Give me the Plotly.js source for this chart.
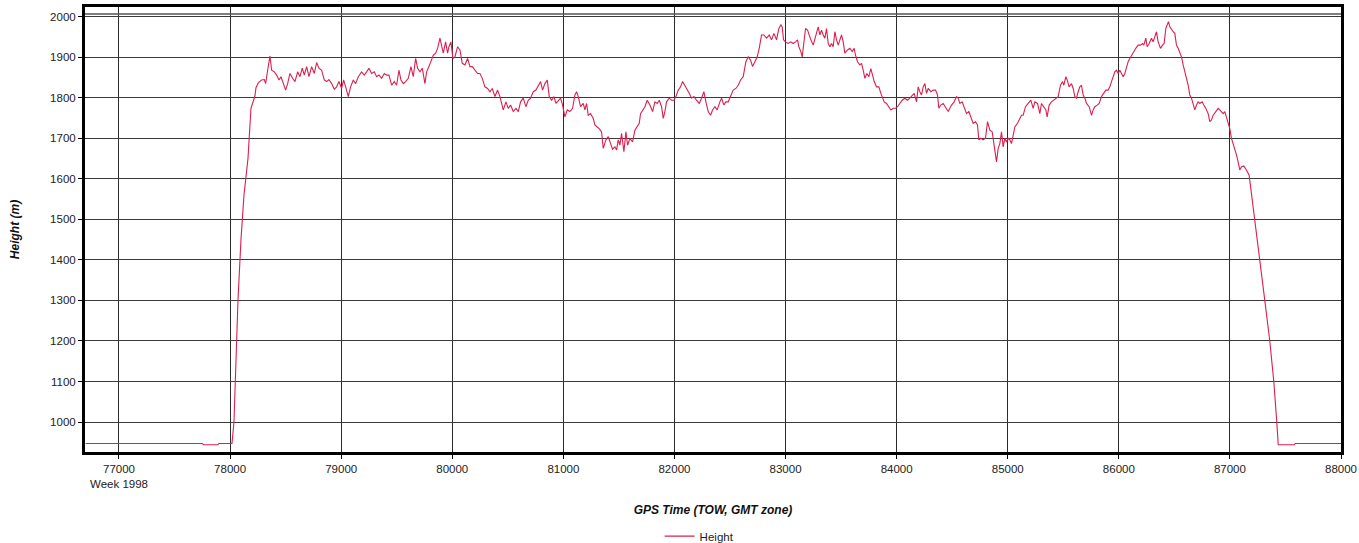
<!DOCTYPE html>
<html>
<head>
<meta charset="utf-8">
<script src="https://cdn.plot.ly/plotly-3.0.1.min.js"></script>
<style>
  html, body { margin: 0; padding: 0; background: #ffffff; }
  #chart { width: 1359px; height: 543px; }
</style>
</head>
<body>
<div id="chart"></div>
<script>
// GPS time of week (s)
const gpsTime = [
  76700, 77750, 77760, 77890, 77900, 78017, 78035, 78053, 78071, 78098, 78125, 78161, 78188, 78224, 78233,
  78254, 78284, 78308, 78320, 78338, 78359, 78374, 78398, 78419, 78440, 78458, 78479, 78500, 78518, 78539,
  78563, 78584, 78608, 78629, 78650, 78668, 78689, 78710, 78734, 78758, 78779, 78800, 78824, 78848, 78869,
  78890, 78914, 78938, 78959, 78980, 79004, 79022, 79040, 79064, 79085, 79109, 79130, 79154, 79184, 79208,
  79229, 79250, 79274, 79298, 79319, 79340, 79364, 79388, 79409, 79430, 79454, 79478, 79499, 79520, 79538,
  79559, 79580, 79604, 79628, 79649, 79670, 79688, 79709, 79730, 79754, 79769, 79790, 79814, 79829, 79850,
  79868, 79889, 79904, 79919, 79940, 79958, 79970, 79988, 80006, 80024, 80048, 80069, 80090, 80114, 80138,
  80159, 80180, 80204, 80228, 80249, 80270, 80294, 80318, 80339, 80360, 80384, 80408, 80429,
  80459, 80483, 80504, 80525, 80549, 80573, 80594, 80615, 80639, 80663, 80684, 80705, 80729, 80753, 80774,
  80795, 80813, 80834, 80855, 80873, 80894, 80915, 80933, 80954, 80975, 80993, 81014, 81035, 81059, 81083,
  81104, 81119, 81134, 81155, 81179, 81194, 81209, 81224, 81245, 81269, 81284, 81305, 81323, 81344, 81359,
  81383, 81404, 81425, 81443, 81464, 81479, 81494, 81509, 81524, 81545, 81563, 81578, 81599, 81623, 81644,
  81665, 81683, 81695, 81713, 81734, 81755, 81779, 81803, 81824, 81845, 81863, 81884, 81899, 81914, 81929,
  81953, 81974, 81995, 82013, 82034, 82055, 82073, 82094, 82115, 82133, 82154, 82175, 82199, 82223, 82244,
  82265, 82283, 82304, 82325, 82343, 82364, 82385, 82409, 82424, 82445, 82463, 82484, 82505, 82529, 82553,
  82574, 82595, 82619, 82643, 82664, 82685, 82703, 82724, 82745, 82763, 82784, 82805, 82829, 82853, 82874,
  82895, 82919,
  82940, 82958, 82970, 82982, 83000, 83024, 83048, 83069, 83090, 83108, 83120, 83138, 83150, 83168, 83180,
  83198, 83210, 83228, 83249, 83264, 83282, 83294, 83309, 83324, 83339, 83354, 83369, 83384, 83399, 83414,
  83429, 83444, 83459, 83474, 83489, 83504, 83519, 83534, 83558, 83579, 83600, 83618, 83630, 83648, 83669,
  83684, 83699, 83714, 83732, 83750, 83768, 83783, 83798, 83819, 83840, 83858, 83870, 83888, 83909, 83930,
  83948, 83969, 83990, 84008, 84029, 84050, 84074, 84098, 84119, 84140, 84158, 84179, 84194, 84209, 84224,
  84239, 84254, 84269, 84284, 84308, 84329, 84350, 84368, 84380, 84398, 84419, 84440, 84464, 84479, 84494,
  84518, 84539, 84554, 84569, 84590, 84608, 84629, 84650, 84674, 84689, 84710, 84728, 84740, 84758, 84779,
  84800, 84818, 84839, 84860, 84878, 84890, 84899, 84914, 84929, 84944, 84959, 84974, 84989, 85004, 85019,
  85034, 85049, 85064, 85088, 85109, 85124, 85139, 85160, 85184, 85208, 85229, 85244,
  85268, 85289, 85304, 85325, 85343, 85355, 85373, 85394, 85415, 85433, 85454, 85475, 85493, 85505, 85523,
  85535, 85553, 85574, 85589, 85604, 85619, 85634, 85649, 85664, 85679, 85694, 85709, 85733, 85754, 85769,
  85784, 85805, 85823, 85844, 85865, 85883, 85904, 85919, 85934, 85949, 85964, 85979, 85994, 86009, 86024,
  86039, 86054, 86069, 86084, 86099, 86114, 86135, 86153, 86174, 86195, 86213, 86225, 86243, 86255, 86273,
  86294, 86309, 86324, 86339, 86354, 86375, 86393, 86408, 86423, 86435, 86447, 86459, 86474, 86489, 86504,
  86519, 86534, 86549, 86564, 86579, 86594, 86609, 86624, 86639, 86654, 86669, 86684, 86699, 86714, 86729,
  86750, 86765, 86783, 86804, 86819, 86834, 86849, 86873, 86894, 86909, 86924, 86939, 86954, 86969, 86984,
  86999, 87014, 87029, 87044, 87059, 87074, 87089, 87104, 87125, 87149, 87173,
  87200, 87224, 87269, 87314, 87359, 87395, 87422, 87435, 87580, 87590, 88000
];

// Height (m)
const heightM = [
  947, 947, 944, 944, 947, 947, 1000, 1150, 1300, 1450, 1560, 1650, 1774, 1805, 1825,
  1837, 1844, 1845, 1835, 1868, 1903, 1868, 1864, 1856, 1844, 1852, 1835, 1819, 1835, 1860,
  1848, 1840, 1864, 1852, 1873, 1856, 1877, 1852, 1877, 1860, 1887, 1873, 1868, 1844, 1840,
  1845, 1835, 1821, 1827, 1840, 1823, 1844, 1827, 1803, 1827, 1844, 1835, 1852, 1864, 1856,
  1864, 1873, 1860, 1864, 1852, 1856, 1848, 1860, 1856, 1856, 1831, 1840, 1831, 1868, 1844,
  1835, 1840, 1848, 1877, 1852, 1897, 1873, 1864, 1873, 1835, 1864, 1877, 1897, 1905, 1910,
  1922, 1947, 1930, 1910, 1938, 1910, 1926, 1938, 1897, 1901, 1926, 1918, 1885, 1881, 1897,
  1877, 1877, 1868, 1860, 1860, 1848, 1827, 1823, 1815, 1823, 1803, 1819, 1803,
  1770, 1790, 1774, 1782, 1766, 1774, 1766, 1790, 1799, 1778, 1794, 1799, 1815, 1819, 1831,
  1840, 1819, 1835, 1844, 1803, 1794, 1803, 1786, 1794, 1799, 1782, 1753, 1770, 1766, 1774,
  1807, 1815, 1803, 1778, 1786, 1770, 1786, 1757, 1761, 1749, 1733, 1728, 1724, 1716, 1675,
  1696, 1704, 1687, 1673, 1679, 1671, 1696, 1683, 1712, 1667, 1716, 1683, 1700, 1691, 1720,
  1728, 1737, 1761, 1770, 1778, 1794, 1782, 1766, 1790, 1786, 1794, 1778, 1749, 1766, 1790,
  1799, 1794, 1794, 1803, 1819, 1827, 1840, 1831, 1819, 1811, 1799, 1803, 1794, 1786, 1799,
  1815, 1790, 1766, 1757, 1770, 1778, 1770, 1790, 1799, 1782, 1790, 1790, 1803, 1819, 1823,
  1831, 1844, 1852, 1889, 1901, 1893, 1877, 1889, 1901, 1922, 1955, 1955, 1947, 1955, 1943,
  1959, 1943,
  1971, 1980, 1975, 1943, 1938, 1934, 1938, 1934, 1938, 1943, 1926, 1914, 1901, 1943, 1971,
  1967, 1955, 1943, 1930, 1943, 1959, 1975, 1955, 1967, 1955, 1947, 1971, 1934, 1926, 1934,
  1926, 1963, 1943, 1930, 1943, 1955, 1938, 1910, 1918, 1922, 1914, 1922, 1905, 1889, 1881,
  1885, 1868, 1848, 1860, 1852, 1872, 1852, 1840, 1827, 1827, 1811, 1803, 1790, 1786, 1778,
  1770, 1774, 1774, 1778, 1786, 1794, 1799, 1794, 1799, 1807, 1811, 1790, 1827, 1815, 1807,
  1827, 1835, 1811, 1823, 1815, 1819, 1819, 1807, 1774, 1782, 1786, 1778, 1766, 1774, 1782,
  1790, 1803, 1799, 1786, 1790, 1778, 1761, 1766, 1749, 1737, 1741, 1733, 1696, 1700, 1696,
  1700, 1741, 1720, 1716, 1683, 1659, 1642, 1675, 1687, 1716, 1679, 1700, 1691, 1700, 1696,
  1687, 1704, 1728, 1737, 1749, 1757, 1757, 1778, 1786, 1794, 1774, 1790,
  1786, 1761, 1786, 1778, 1770, 1753, 1782, 1790, 1794, 1799, 1803, 1831, 1840, 1831, 1852,
  1844, 1827, 1835, 1823, 1803, 1799, 1815, 1827, 1831, 1807, 1799, 1786, 1778, 1757, 1770,
  1778, 1782, 1786, 1803, 1811, 1819, 1819, 1827, 1840, 1852, 1864, 1868, 1860, 1868, 1860,
  1852, 1860, 1877, 1889, 1897, 1905, 1914, 1922, 1930, 1930, 1934, 1930, 1947, 1926, 1934,
  1947, 1938, 1951, 1963, 1938, 1922, 1930, 1934, 1971, 1980, 1988, 1975, 1967, 1963, 1959,
  1930, 1922, 1910, 1901, 1881, 1860, 1848, 1831, 1807, 1799, 1786, 1770, 1782, 1790, 1786,
  1790, 1782, 1774, 1761, 1741, 1745, 1757, 1766, 1774, 1770, 1766, 1761, 1766, 1753, 1741,
  1724, 1700, 1687, 1675, 1659, 1642, 1622, 1630, 1632, 1622, 1609,
  1550, 1500, 1400, 1300, 1200, 1100, 1000, 944, 944, 947, 947
];

// Axis ticks
const xTickVals = [77000, 78000, 79000, 80000, 81000, 82000, 83000, 84000, 85000, 86000, 87000, 88000];
const xTickText = ['77000<br>Week 1998', '78000', '79000', '80000', '81000', '82000', '83000', '84000', '85000', '86000', '87000', '88000'];
const yTickVals = [1000, 1100, 1200, 1300, 1400, 1500, 1600, 1700, 1800, 1900, 2000];

const FONT = 'Liberation Sans, Arial, sans-serif';

const trace = {
  type: 'scatter',
  mode: 'lines',
  name: 'Height',
  x: gpsTime,
  y: heightM,
  line: { color: '#dc1f4f', width: 1.1 },
  hoverinfo: 'x+y'
};

const layout = {
  width: 1359,
  height: 543,
  margin: { l: 85, r: 18, t: 7, b: 91, pad: 0, autoexpand: false },
  paper_bgcolor: '#ffffff',
  plot_bgcolor: '#ffffff',
  font: { family: FONT, size: 11.5, color: '#222' },
  showlegend: true,
  legend: {
    orientation: 'h',
    x: 0.4575, xanchor: 'left',
    y: -0.189, yanchor: 'middle',
    font: { family: FONT, size: 11.5, color: '#222' },
    bgcolor: 'rgba(0,0,0,0)'
  },
  xaxis: {
    range: [76694, 88000],
    automargin: false,
    tickmode: 'array',
    tickvals: xTickVals,
    ticktext: xTickText,
    ticks: 'outside', ticklen: 4, tickcolor: '#000', tickwidth: 1,
    tickfont: { family: FONT, size: 11.5, color: '#222' },
    showgrid: true, gridcolor: '#2a2a2a', gridwidth: 1.4,
    zeroline: false,
    showline: true, linecolor: '#000', linewidth: 3, mirror: true,
    title: {
      text: 'GPS Time (TOW, GMT zone)',
      font: { family: FONT, size: 12, color: '#111', weight: 'bold', style: 'italic' },
      standoff: 17
    }
  },
  yaxis: {
    range: [926, 2024],
    automargin: false,
    tickmode: 'array',
    tickvals: yTickVals,
    ticks: 'outside', ticklen: 4, tickcolor: '#000', tickwidth: 1,
    tickfont: { family: FONT, size: 11.5, color: '#222' },
    showgrid: true, gridcolor: '#3a3a3a', gridwidth: 1.4,
    zeroline: false,
    showline: true, linecolor: '#000', linewidth: 3, mirror: true,
    title: {
      text: 'Height (m)',
      font: { family: FONT, size: 12, color: '#111', weight: 'bold', style: 'italic' },
      standoff: 28
    }
  },
  shapes: [
    { type: 'line', xref: 'paper', x0: 0, x1: 1, yref: 'y', y0: 2007, y1: 2007,
      line: { color: '#555', width: 1.5 } }
  ]
};

Plotly.newPlot('chart', [trace], layout, { displayModeBar: false, responsive: false });
</script>
</body>
</html>
